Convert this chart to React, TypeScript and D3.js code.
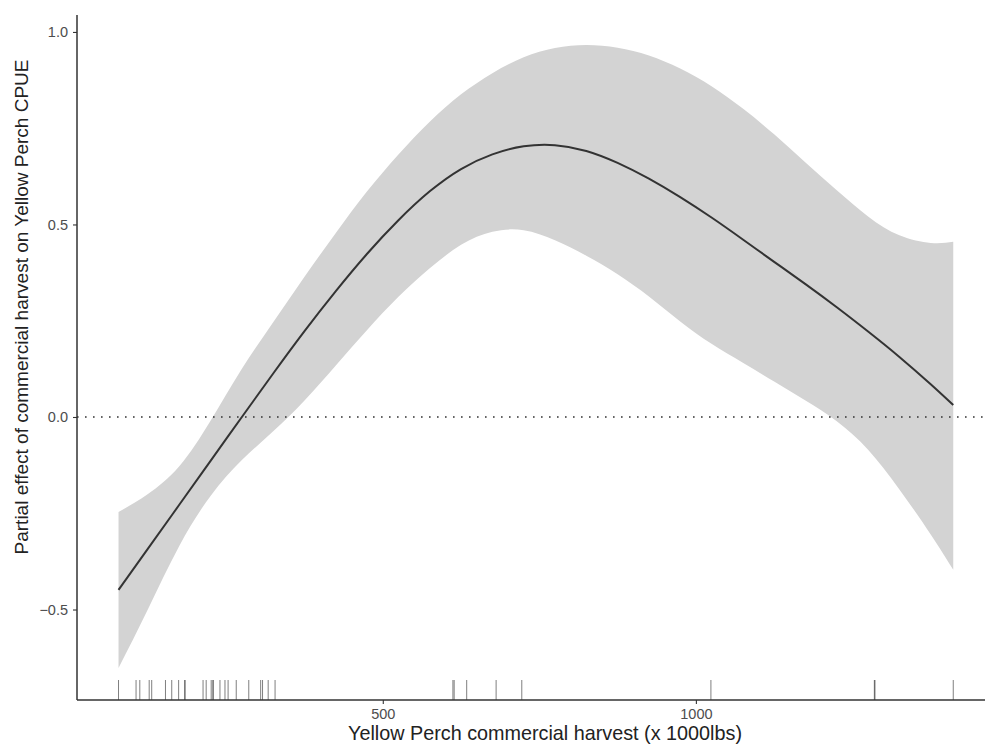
import React, { useEffect, useRef } from "react";
import * as d3 from "d3";

const harvest = [78, 125, 175, 225, 275, 325, 375, 425, 475, 525, 575, 625, 675, 725, 775, 825, 875, 925, 975, 1025, 1075, 1125, 1175, 1225, 1275, 1325, 1375, 1411];

// Partial effect estimate and its confidence band
const fit = [-0.449, -0.342, -0.228, -0.114, 0.0, 0.113, 0.223, 0.327, 0.424, 0.511, 0.586, 0.644, 0.682, 0.703, 0.706, 0.691, 0.66, 0.619, 0.571, 0.518, 0.461, 0.403, 0.345, 0.285, 0.222, 0.156, 0.085, 0.031];
const upper = [-0.247, -0.2, -0.128, -0.01, 0.125, 0.246, 0.364, 0.478, 0.586, 0.682, 0.767, 0.838, 0.893, 0.934, 0.958, 0.966, 0.959, 0.939, 0.905, 0.859, 0.801, 0.734, 0.661, 0.589, 0.521, 0.472, 0.452, 0.455];
const lower = [-0.652, -0.499, -0.335, -0.205, -0.112, -0.037, 0.043, 0.134, 0.226, 0.312, 0.386, 0.447, 0.481, 0.485, 0.459, 0.419, 0.371, 0.313, 0.248, 0.19, 0.141, 0.092, 0.043, -0.011, -0.085, -0.188, -0.305, -0.397];

// Observed harvest values shown as the rug
const rugValues = [78, 106, 112, 127, 131, 153, 163, 174, 184, 184, 213, 218, 226, 229, 229, 240, 248, 253, 266, 286, 305, 308, 317, 328, 612, 614, 634, 681, 722, 1024, 1285, 1286, 1411];

const xTicks = [500, 1000];
const yTicks = [-0.5, 0, 0.5, 1];

const FONT = "Liberation Sans, Arial, sans-serif";

const App = () => {
  const svgRef = useRef<SVGSVGElement>(null);
  const width = 985;
  const height = 745;

  useEffect(() => {
    const svg = d3.select(svgRef.current);
    svg.selectAll("*").remove();

    const margin = { top: 15, right: 0, bottom: 45, left: 77 };
    const innerWidth = width - margin.left - margin.right;
    const innerHeight = height - margin.top - margin.bottom;

    const x = d3.scaleLinear().domain([11.7, 1461.7]).range([0, innerWidth]);
    const y = d3.scaleLinear().domain([-0.735, 1.044]).range([innerHeight, 0]);

    const g = svg.append("g").attr("transform", `translate(${margin.left},${margin.top})`);

    const rows = harvest.map((h, i) => ({ h, fit: fit[i], lo: lower[i], hi: upper[i] }));

    // Confidence band
    g.append("path")
      .datum(rows)
      .attr("fill", "#d3d3d3")
      .attr("d", d3.area<any>()
        .x((d) => x(d.h))
        .y0((d) => y(d.lo))
        .y1((d) => y(d.hi))
        .curve(d3.curveNatural));

    // Zero reference line
    g.append("line")
      .attr("x1", 0)
      .attr("x2", innerWidth)
      .attr("y1", y(0))
      .attr("y2", y(0))
      .style("stroke", "#333")
      .style("stroke-width", 1.6)
      .style("stroke-dasharray", "1.6,6.4");

    // Smooth estimate
    g.append("path")
      .datum(rows)
      .attr("fill", "none")
      .attr("stroke", "#333")
      .attr("stroke-width", 2)
      .attr("d", d3.line<any>()
        .x((d) => x(d.h))
        .y((d) => y(d.fit))
        .curve(d3.curveNatural));

    // Rug
    g.selectAll(".rug")
      .data(rugValues)
      .enter()
      .append("line")
      .attr("class", "rug")
      .attr("x1", (d) => x(d))
      .attr("x2", (d) => x(d))
      .attr("y1", innerHeight - 20)
      .attr("y2", innerHeight)
      .style("stroke", "#000")
      .style("stroke-opacity", 0.5)
      .style("stroke-width", 1);

    // Axes
    const yAxis = g.append("g")
      .call(d3.axisLeft(y).tickValues(yTicks).tickSize(4).tickPadding(5)
        .tickFormat((d) => d3.format(".1f")(d as number).replace("-", "\u2212")));
    const xAxis = g.append("g")
      .attr("transform", `translate(0,${innerHeight})`)
      .call(d3.axisBottom(x).tickValues(xTicks).tickSize(4).tickPadding(5).tickFormat(d3.format("d")));

    [xAxis, yAxis].forEach((ax) => {
      ax.select(".domain").remove();
      ax.selectAll(".tick line").style("stroke", "#333").style("stroke-width", 1.1);
      ax.selectAll(".tick text")
        .style("fill", "#4d4d4d")
        .style("font-size", "14.5px")
        .style("font-family", FONT);
    });

    g.append("line")
      .attr("x1", 0).attr("x2", 0).attr("y1", 0).attr("y2", innerHeight)
      .style("stroke", "#333").style("stroke-width", 1.5);
    g.append("line")
      .attr("x1", 0).attr("x2", innerWidth).attr("y1", innerHeight).attr("y2", innerHeight)
      .style("stroke", "#333").style("stroke-width", 1.5);

    // Axis titles
    svg.append("text")
      .attr("x", 545)
      .attr("y", 740)
      .attr("text-anchor", "middle")
      .style("font-size", "19.8px")
      .style("font-family", FONT)
      .style("fill", "#222")
      .text("Yellow Perch commercial harvest (x 1000lbs)");

    svg.append("text")
      .attr("transform", "translate(28,307) rotate(-90)")
      .attr("text-anchor", "middle")
      .style("font-size", "19px")
      .style("font-family", FONT)
      .style("fill", "#222")
      .text("Partial effect of commercial harvest on Yellow Perch CPUE");
  }, []);

  return (
    <svg
      ref={svgRef}
      width={width}
      height={height}
      style={{ position: "absolute", left: 0, top: 0, background: "#fff" }}
    />
  );
};

export default App;
